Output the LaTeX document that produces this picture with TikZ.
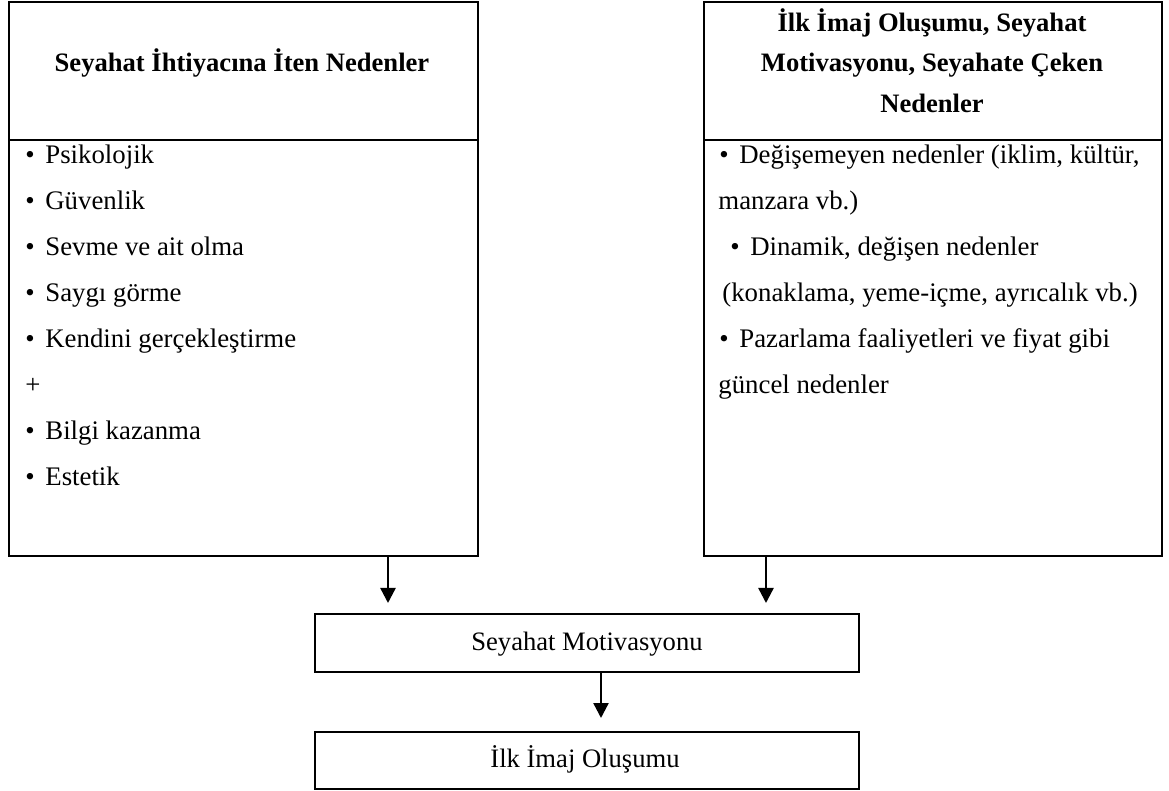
\documentclass[tikz,border=0pt]{standalone}
\usepackage{fontspec}
\setmainfont{Liberation Serif}
\usetikzlibrary{arrows.meta}
\newcommand{\bul}{\makebox[10pt][l]{•}}
\begin{document}
\begin{tikzpicture}[x=0.5pt,y=-0.5pt,
  box/.style={draw, line width=1.1pt, inner sep=0pt, anchor=north west},
  txt/.style={inner sep=0pt, anchor=base west, font=\fontsize{13.4}{16}\selectfont},
  ctxt/.style={inner sep=0pt, anchor=base, font=\fontsize{13.3}{16}\selectfont},
  htxt/.style={inner sep=0pt, anchor=base, font=\fontsize{13.3}{16}\selectfont\bfseries},
  arr/.style={-{Triangle[width=7.5pt,length=7.5pt]}, line width=1.2pt}]
\useasboundingbox (0,0) rectangle (1169,791);
% boxes
\node[box, minimum width=234.5pt, minimum height=69pt] (Lh) at (8,1) {};
\node[box, minimum width=234.5pt, minimum height=208pt] (Lb) at (8,139) {};
\node[box, minimum width=229pt, minimum height=69pt] (Rh) at (703,1) {};
\node[box, minimum width=229pt, minimum height=208pt] (Rb) at (703,139) {};
\node[box, minimum width=272pt, minimum height=29pt] (M) at (314,613) {};
\node[box, minimum width=272pt, minimum height=28.5pt] (F) at (314,731) {};
% headers
\node[htxt] (lh1) at (242,72) {Seyahat İhtiyacına İten Nedenler};
\node[htxt] (rh1) at (932,32) {İlk İmaj Oluşumu, Seyahat};
\node[htxt] (rh2) at (932,72) {Motivasyonu, Seyahate Çeken};
\node[htxt] (rh3) at (932,113) {Nedenler};
% left list
\node[txt] (l1) at (25,164) {\bul Psikolojik};
\node[txt] (l2) at (25,210) {\bul Güvenlik};
\node[txt] (l3) at (25,256) {\bul Sevme ve ait olma};
\node[txt] (l4) at (25,302) {\bul Saygı görme};
\node[txt] (l5) at (25,348) {\bul Kendini gerçekleştirme};
\node[txt] (l6) at (25,394) {+};
\node[txt] (l7) at (25,440) {\bul Bilgi kazanma};
\node[txt] (l8) at (25,486) {\bul Estetik};
% right list
\node[txt] (r1) at (719,164) {\bul Değişemeyen nedenler (iklim, kültür,};
\node[txt] (r2) at (718,210) {manzara vb.)};
\node[txt] (r3) at (730,256) {\bul Dinamik, değişen nedenler};
\node[txt] (r4) at (722,302) {(konaklama, yeme-içme, ayrıcalık vb.)};
\node[txt] (r5) at (719,348) {\bul Pazarlama faaliyetleri ve fiyat gibi};
\node[txt] (r6) at (718,394) {güncel nedenler};
% bottom texts
\node[ctxt] (mt) at (587,650) {Seyahat Motivasyonu};
\node[ctxt] (ft) at (585,767) {İlk İmaj Oluşumu};
% arrows
\coordinate (ax1) at (388,0);
\coordinate (ax2) at (766,0);
\coordinate (ax3) at (601,0);
\draw[arr, shorten >=5pt] (Lb.south -| ax1) -- (M.north -| ax1);
\draw[arr, shorten >=5pt] (Rb.south -| ax2) -- (M.north -| ax2);
\draw[arr, shorten >=6.5pt] (M.south -| ax3) -- (F.north -| ax3);
\end{tikzpicture}
\end{document}
